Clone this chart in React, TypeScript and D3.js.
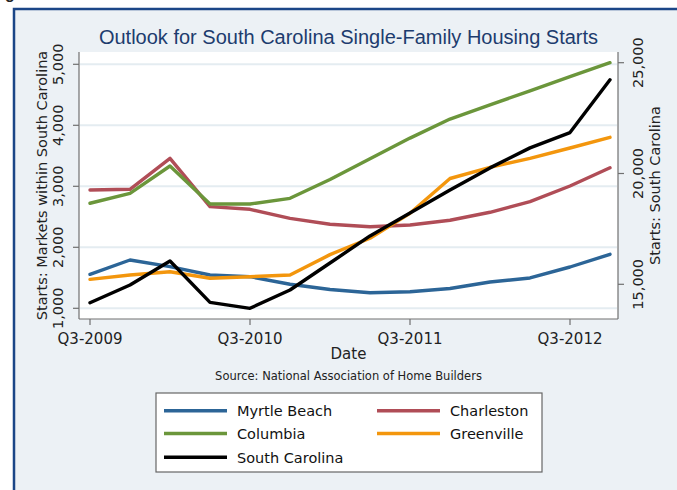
import React from "react";
import * as d3 from "d3";

const quarters = [
  "Q3-2009", "Q4-2009", "Q1-2010", "Q2-2010", "Q3-2010", "Q4-2010", "Q1-2011",
  "Q2-2011", "Q3-2011", "Q4-2011", "Q1-2012", "Q2-2012", "Q3-2012", "Q4-2012",
];
const xTickLabels = ["Q3-2009", "Q3-2010", "Q3-2011", "Q3-2012"];
const leftTicks = [1000, 2000, 3000, 4000, 5000];
const rightTicks = [15000, 20000, 25000];

const myrtleBeach = [1557, 1792, 1682, 1546, 1518, 1395, 1308, 1256, 1272, 1325, 1431, 1497, 1677, 1885];
const charleston = [2939, 2951, 3459, 2666, 2623, 2475, 2377, 2338, 2366, 2443, 2574, 2748, 3005, 3305];
const columbia = [2722, 2885, 3333, 2710, 2710, 2803, 3111, 3452, 3790, 4102, 4334, 4566, 4797, 5026];
const greenville = [1475, 1546, 1600, 1492, 1518, 1546, 1880, 2148, 2557, 3128, 3311, 3459, 3628, 3803];
const southCarolina = [14169, 14968, 16052, 14187, 13916, 14743, 15962, 17182, 18220, 19259, 20253, 21156, 21847, 24228];

const seriesNames = ["Myrtle Beach", "Charleston", "Columbia", "Greenville", "South Carolina"];
const seriesColors = ["#2c6597", "#b04d57", "#6b963b", "#f3960d", "#000000"];

const FONT = "'DejaVu Sans', Verdana, sans-serif";
const TITLE_FONT = "'Liberation Sans', Arial, Helvetica, sans-serif";

export default function App() {
  const plot = { left: 79, right: 618, top: 52, bottom: 319 };
  const x = d3.scalePoint<string>().domain(quarters).range([90, 610]);
  const yL = d3.scaleLinear().domain([1000, 5000]).range([308.3, 64.3]);
  const yR = d3.scaleLinear().domain([15000, 25000]).range([284.3, 62.7]);

  const lineL = d3
    .line<number>()
    .x((_, i) => x(quarters[i]) as number)
    .y((d) => yL(d));
  const lineR = d3
    .line<number>()
    .x((_, i) => x(quarters[i]) as number)
    .y((d) => yR(d));

  const leftSeries = [myrtleBeach, charleston, columbia, greenville];
  const cx = (plot.left + plot.right) / 2;
  const cy = (plot.top + plot.bottom) / 2;

  const legendItems = [
    { name: seriesNames[0], color: seriesColors[0], col: 0, row: 0 },
    { name: seriesNames[1], color: seriesColors[1], col: 1, row: 0 },
    { name: seriesNames[2], color: seriesColors[2], col: 0, row: 1 },
    { name: seriesNames[3], color: seriesColors[3], col: 1, row: 1 },
    { name: seriesNames[4], color: seriesColors[4], col: 0, row: 2 },
  ];
  const legX = [164, 377];
  const legY = [410.7, 433.5, 457.3];
  const fmt = d3.format(",");

  return (
    <svg
      width={677}
      height={490}
      style={{ position: "absolute", left: 0, top: 0, background: "#ffffff" }}
      fontFamily={FONT}
    >
      <text x={5} y={-1} fontSize={16} fontWeight="bold" fill="#222" fontFamily={TITLE_FONT}>g</text>
      <rect x={14} y={9} width={700} height={520} fill="#ecf1f5" stroke="#1b4687" strokeWidth={2.5} />
      <text x={cx} y={44} textAnchor="middle" fontSize={20} fill="#1d3c6e" fontFamily={TITLE_FONT}>
        Outlook for South Carolina Single-Family Housing Starts
      </text>

      <rect x={plot.left} y={plot.top} width={plot.right - plot.left} height={plot.bottom - plot.top} fill="#ffffff" />
      {leftTicks.map((t) => (
        <line key={"g" + t} x1={plot.left + 1} x2={plot.right - 1} y1={yL(t)} y2={yL(t)} stroke="#e4ecf1" strokeWidth={2} />
      ))}

      {leftSeries.map((s, i) => (
        <path key={seriesNames[i]} d={lineL(s) as string} fill="none" stroke={seriesColors[i]} strokeWidth={3.4} strokeLinejoin="round" strokeLinecap="round" />
      ))}
      <path d={lineR(southCarolina) as string} fill="none" stroke={seriesColors[4]} strokeWidth={3.4} strokeLinejoin="round" strokeLinecap="round" />

      <line x1={plot.left} x2={plot.left} y1={plot.top} y2={plot.bottom} stroke="#707070" strokeWidth={1.2} />
      <line x1={plot.right} x2={plot.right} y1={plot.top} y2={plot.bottom} stroke="#707070" strokeWidth={1.2} />
      <line x1={plot.left} x2={plot.right} y1={plot.bottom} y2={plot.bottom} stroke="#707070" strokeWidth={1.2} />

      {leftTicks.map((t) => (
        <g key={"lt" + t}>
          <line x1={plot.left - 6} x2={plot.left} y1={yL(t)} y2={yL(t)} stroke="#707070" strokeWidth={1.2} />
          <text transform={`translate(63,${yL(t)}) rotate(-90)`} textAnchor="middle" fontSize={14.5} fill="#222">
            {fmt(t)}
          </text>
        </g>
      ))}
      {rightTicks.map((t) => (
        <g key={"rt" + t}>
          <line x1={plot.right} x2={plot.right + 6} y1={yR(t)} y2={yR(t)} stroke="#707070" strokeWidth={1.2} />
          <text transform={`translate(643,${yR(t)}) rotate(-90)`} textAnchor="middle" fontSize={14.5} fill="#222">
            {fmt(t)}
          </text>
        </g>
      ))}
      {xTickLabels.map((q) => (
        <g key={q}>
          <line x1={x(q)} x2={x(q)} y1={plot.bottom} y2={plot.bottom + 6} stroke="#707070" strokeWidth={1.2} />
          <text x={x(q)} y={344} textAnchor="middle" fontSize={15} fill="#222">{q}</text>
        </g>
      ))}

      <text transform={`translate(46.5,${cy}) rotate(-90)`} textAnchor="middle" fontSize={14.5} fill="#222">
        Starts: Markets within South Carolina
      </text>
      <text transform={`translate(660,${cy}) rotate(-90)`} textAnchor="middle" fontSize={14.5} fill="#222">
        Starts: South Carolina
      </text>
      <text x={cx} y={359} textAnchor="middle" fontSize={15} fill="#222">Date</text>
      <text x={cx} y={380} textAnchor="middle" fontSize={11.5} fill="#222">
        Source: National Association of Home Builders
      </text>

      <rect x={156} y={393} width={386} height={79} fill="#ffffff" stroke="#666" strokeWidth={1.2} />
      {legendItems.map((it) => (
        <g key={it.name}>
          <line x1={legX[it.col]} x2={legX[it.col] + 63} y1={legY[it.row]} y2={legY[it.row]} stroke={it.color} strokeWidth={3.4} />
          <text x={legX[it.col] + 73} y={legY[it.row] + 5.5} fontSize={14.5} fill="#111">{it.name}</text>
        </g>
      ))}
    </svg>
  );
}
